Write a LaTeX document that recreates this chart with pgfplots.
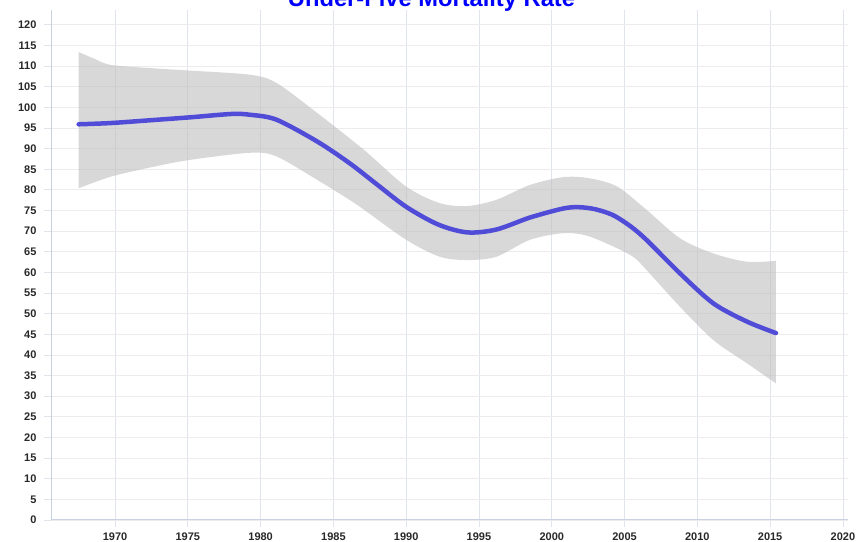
\documentclass[border=0pt]{standalone}
\usepackage{fontspec}
\setmainfont{Liberation Sans}
\usepackage{pgfplots}
\pgfplotsset{compat=1.18}
\usepgfplotslibrary{fillbetween}
\definecolor{gridv}{RGB}{224,229,237}
\definecolor{gridh}{RGB}{236,236,236}
\definecolor{axisc}{RGB}{200,210,226}
\definecolor{lineb}{RGB}{80,76,216}
\definecolor{bandc}{RGB}{190,190,190}
\definecolor{labc}{RGB}{40,40,40}
\begin{document}
\begin{tikzpicture}
\begin{axis}[
  at={(51bp,22bp)}, anchor=south west,
  scale only axis, width=797bp, height=510bp,
  xmin=1965.6, xmax=2020.35, ymin=0, ymax=123.6,
  xtick={1970,1975,...,2020}, ytick={0,5,...,120},
  axis x line*=bottom, axis y line*=left,
  axis line style={axisc, line width=1bp, -},
  grid=major,
  x grid style={gridv, line width=0.8bp},
  y grid style={gridh, line width=0.8bp},
  tick align=outside, major tick length=7bp,
  tick style={gridv, line width=0.8bp},
  ticklabel style={font=\bfseries\fontsize{11bp}{13bp}\selectfont, text=labc},
  yticklabel style={xshift=-4bp},
  xticklabel style={yshift=-2bp},
  /pgf/number format/assume math mode=true,
  /pgf/number format/1000 sep={},
]
\addplot[name path=upper, draw=none, smooth] coordinates {
(1967.5,113.4) (1968.5,111.9) (1969.7,110.3) (1972.5,109.5) (1975.2,108.9)
(1979.3,107.9) (1981.1,105.9) (1983.9,98.6) (1987.1,89.7) (1990.0,80.8)
(1992.3,76.8) (1994.2,76.1) (1996.2,77.6) (1998.5,81.2) (2000.8,83.1)
(2002.6,82.8) (2004.5,80.8) (2006.5,75.2) (2008.8,68.3) (2011.1,64.6)
(2013.4,62.6) (2015.4,62.8)
};
\addplot[name path=lower, draw=none, smooth] coordinates {
(1967.5,80.4) (1969.7,83.2) (1972.5,85.5) (1975.2,87.3) (1979.3,89.0)
(1981.1,88.1) (1983.9,82.4) (1986.1,77.6) (1987.1,75.2) (1990.0,67.9)
(1992.3,63.8) (1994.2,63.0) (1996.2,63.8) (1998.5,67.9) (2000.8,69.5)
(2002.6,68.7) (2005.4,64.2) (2006.5,60.6) (2008.8,51.7) (2011.1,43.6)
(2013.4,38.0) (2015.4,33.1)
};
\addplot[bandc, fill opacity=0.6, draw=none] fill between[of=upper and lower];
\addplot[lineb, line width=4.5bp, smooth, line cap=round] coordinates {
(1967.5,95.9) (1969.7,96.2) (1972.5,96.9) (1975.2,97.6) (1978.0,98.4)
(1979.3,98.2) (1981.1,97.0) (1983.9,91.7) (1986.1,86.5) (1988.0,81.3)
(1990.0,75.9) (1992.2,71.6) (1994.2,69.7) (1996.2,70.4) (1998.5,73.3)
(2000.8,75.5) (2001.9,75.8) (2003.0,75.3) (2004.2,73.9) (2005.4,71.2)
(2006.5,67.9) (2008.8,59.8) (2011.1,52.5) (2013.4,48.1) (2015.4,45.3)
};
\end{axis}
\node[anchor=base, text=blue, font=\bfseries\fontsize{23.7bp}{28bp}\selectfont] at (431.5bp,535.5bp) {Under-Five Mortality Rate};
\pgfresetboundingbox
\useasboundingbox (0,0) rectangle (857bp,542bp);
\end{tikzpicture}
\end{document}
